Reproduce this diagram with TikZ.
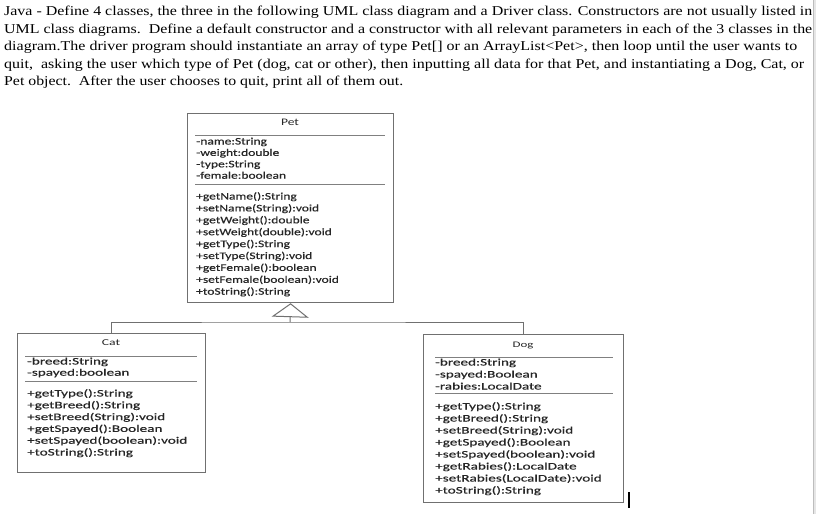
\documentclass[tikz,border=0pt]{standalone}
\usepackage{fontspec}
\usepackage{graphicx}
\setmainfont{Liberation Serif}
\newfontfamily\umlfont[FakeBold=0.35]{Carlito}
\newfontfamily\umltitlefont{Carlito}
\usetikzlibrary{arrows.meta}
\definecolor{boxgray}{HTML}{707070}
\definecolor{sepgray}{HTML}{808080}
\definecolor{umltext}{HTML}{262626}
\definecolor{bandgray}{HTML}{E6E6E6}
\definecolor{bandline}{HTML}{BDBDBD}
\newlength\fitlen
\newcommand\fitto[2]{\settowidth\fitlen{#2}\pgfmathsetmacro\fitk{#1/\fitlen}\scalebox{\fitk}[1]{#2}}
\tikzset{
  umlbox/.style={draw=boxgray, line width=1.2pt, anchor=north west, inner sep=0pt, fill=white},
  sepline/.style={draw=sepgray, line width=0.8pt},
  conn/.style={draw=boxgray, line width=1pt},
  toptext/.style={anchor=base west, inner sep=0pt, font=\fontsize{13.5}{16}\selectfont},
  umlline/.style={anchor=west, inner sep=0pt, text height=7pt, text depth=2pt, text=umltext, font=\umlfont\fontsize{10}{12}\selectfont},
  umltitle/.style={inner sep=0pt, text height=7pt, text depth=2pt, text=umltext, font=\umltitlefont\fontsize{10}{12}\selectfont},
}
\begin{document}
\begin{tikzpicture}[x=1pt,y=-1pt]
\useasboundingbox (0,0) rectangle (816,514);
\fill[white] (0,0) rectangle (816,514);
% right grey band
\fill[bandgray] (813,0) rectangle (816,514);
\draw[bandline, line width=0.8pt] (813.4,0) -- (813.4,514);

% top text
\node[toptext] (l1) at (4,15.5) {\fitto{808pt}{Java - Define 4 classes, the three in the following UML class diagram and a Driver class. Constructors are not usually listed in}};
\node[toptext] (l2) at (4,33) {\fitto{808pt}{UML class diagrams.\ \ Define a default constructor and a constructor with all relevant parameters in each of the 3 classes in the}};
\node[toptext] (l3) at (4,50.5) {\fitto{793pt}{diagram.The driver program should instantiate an array of type Pet[] or an ArrayList<Pet>, then loop until the user wants to}};
\node[toptext] (l4) at (4,68) {\fitto{800pt}{quit,\ \ asking the user which type of Pet (dog, cat or other), then inputting all data for that Pet, and instantiating a Dog, Cat, or}};
\node[toptext] (l5) at (4,85.5) {\fitto{399pt}{Pet object.\ \ After the user chooses to quit, print all of them out.}};

% Pet
\node[umlbox, minimum width=206pt, minimum height=189pt] (pet) at (187,113) {};
\node[umltitle] (pett) at (290,123) {\scalebox{1.35}[1]{Pet}};
\draw[sepline] (195,135) -- (385,135);
\draw[sepline] (195,184) -- (385,184);
\foreach \t [count=\i] in {-name:String,-weight:double,-type:String,-female:boolean}
  \node[umlline] (pa\i) at (196,{142+11.4*(\i-1)}) {\scalebox{1.35}[1]{\t}};
\foreach \t [count=\i] in {+getName():String,+setName(String):void,+getWeight():double,+setWeight(double):void,+getType():String,+setType(String):void,+getFemale():boolean,+setFemale(boolean):void,+toString():String}
  \node[umlline] (pm\i) at (196,{197+11.9*(\i-1)}) {\scalebox{1.35}[1]{\t}};

% Cat
\node[umlbox, minimum width=188pt, minimum height=139pt] (cat) at (17,333) {};
\node[umltitle, font=\umltitlefont\fontsize{9}{11}\selectfont] (catt) at (111,343) {\scalebox{1.52}[1]{Cat}};
\draw[sepline] (25,356) -- (197,356);
\draw[sepline] (25,381) -- (197,381);
\foreach \t [count=\i] in {-breed:String,-spayed:boolean}
  \node[umlline] (ca\i) at (27,{362+11.2*(\i-1)}) {\scalebox{1.52}[1]{\t}};
\foreach \t [count=\i] in {+getType():String,+getBreed():String,+setBreed(String):void,+getSpayed():Boolean,+setSpayed(boolean):void,+toString():String}
  \node[umlline] (cm\i) at (27,{394+11.8*(\i-1)}) {\scalebox{1.52}[1]{\t}};

% Dog
\node[umlbox, minimum width=200pt, minimum height=168pt] (dog) at (423,334) {};
\node[umltitle, font=\umltitlefont\fontsize{8.5}{10}\selectfont] (dogt) at (523,345) {\scalebox{1.52}[1]{Dog}};
\draw[sepline] (435,357) -- (613,357);
\draw[sepline] (435,393) -- (613,393);
\foreach \t [count=\i] in {-breed:String,-spayed:Boolean,-rabies:LocalDate}
  \node[umlline] (da\i) at (435,{363+12*(\i-1)}) {\scalebox{1.52}[1]{\t}};
\foreach \t [count=\i] in {+getType():String,+getBreed():String,+setBreed(String):void,+getSpayed():Boolean,+setSpayed(boolean):void,+getRabies():LocalDate,+setRabies(LocalDate):void,+toString():String}
  \node[umlline] (dm\i) at (435,{407+12*(\i-1)}) {\scalebox{1.52}[1]{\t}};

% inheritance connectors
\coordinate (bus) at (290,322);
\draw[conn] (cat.north) |- (bus) -| (dog.north);
\draw[conn, -{Triangle[open, length=14pt, width=37pt]}] (bus) -- (pet.south);

% text caret
\draw[black, line width=1.3pt] (629,492) -- (629,508);
\end{tikzpicture}
\end{document}
